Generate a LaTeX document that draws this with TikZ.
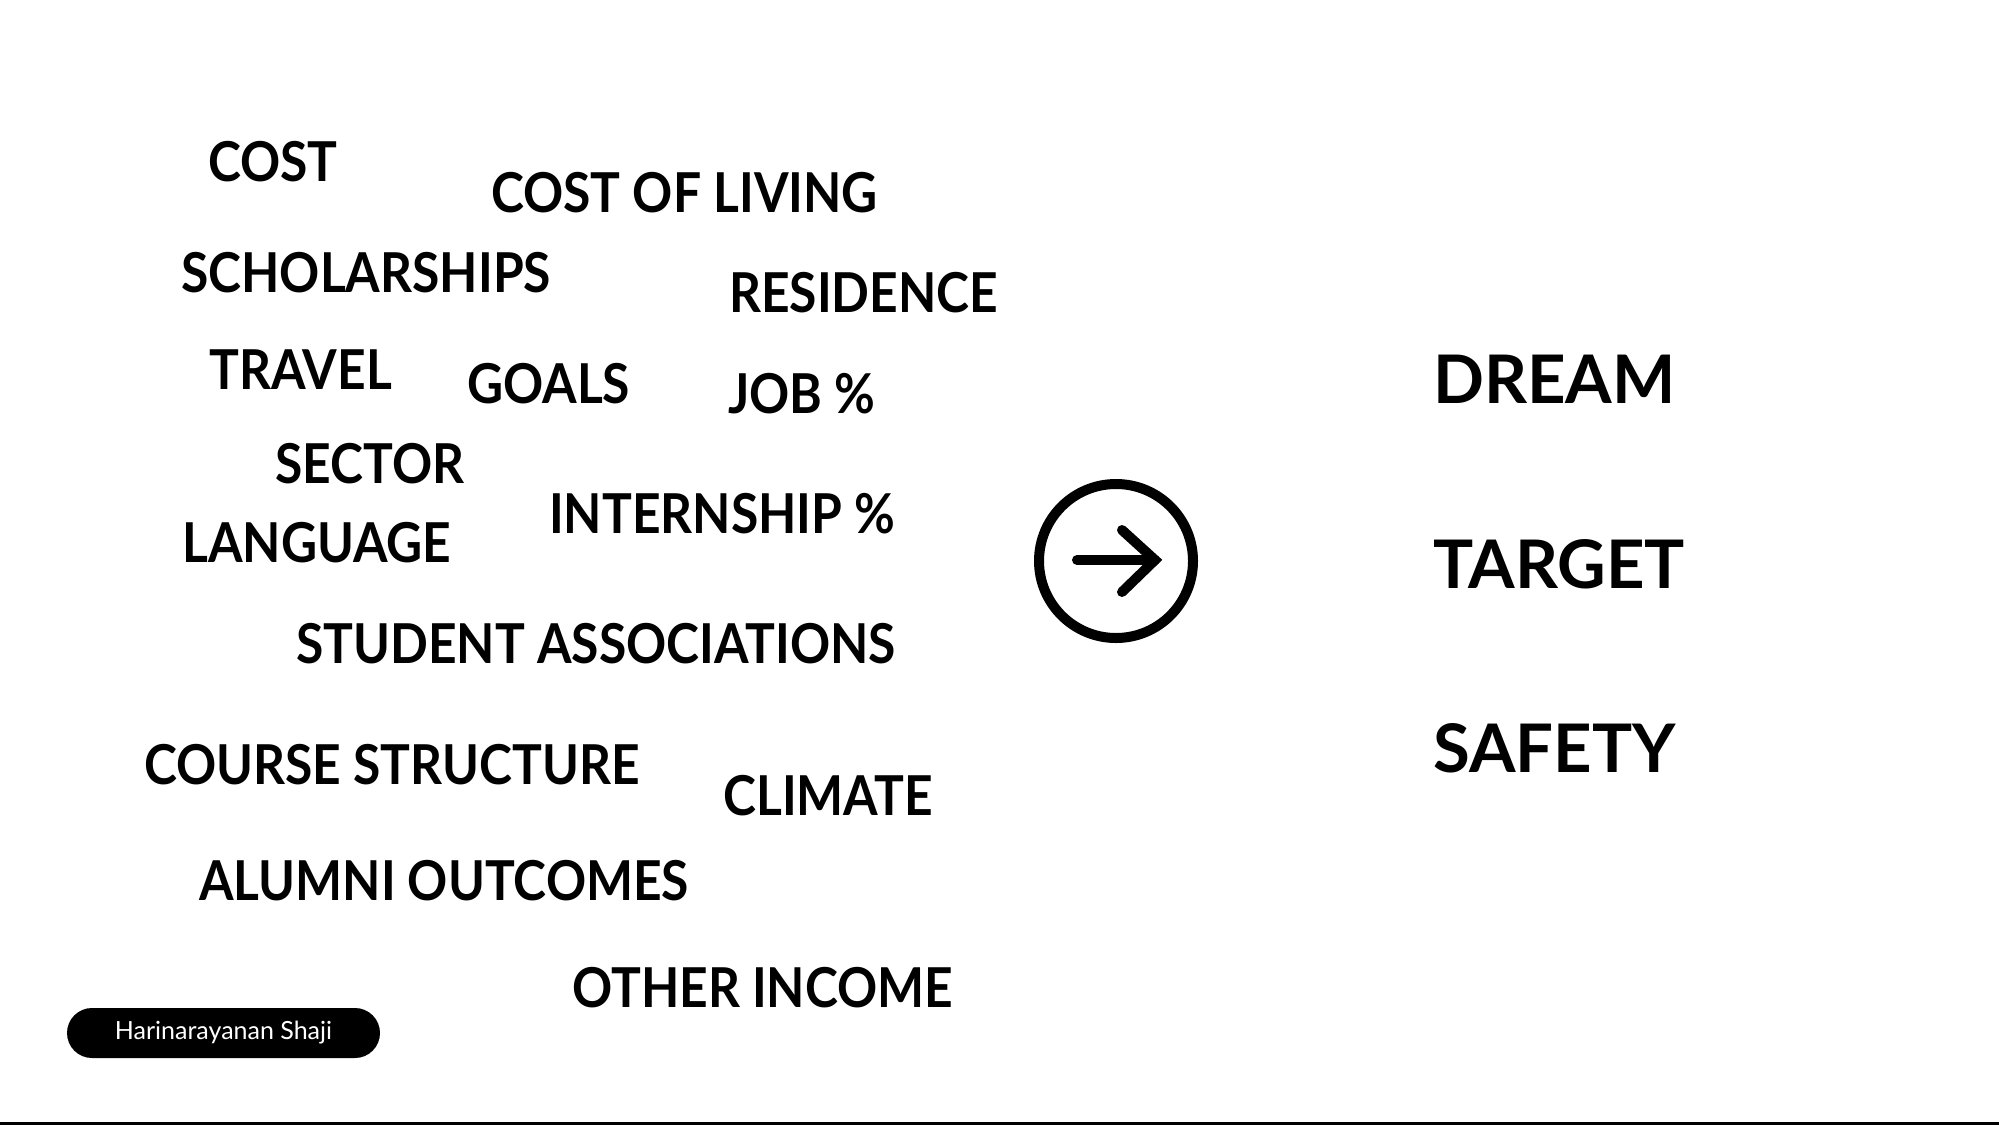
\documentclass[tikz,border=0pt]{standalone}
\usepackage{fontspec}
\usepackage{graphicx}
\setmainfont{Lato}
\newcommand{\narrowtext}[1]{\scalebox{0.905}[1]{#1}}
\begin{document}
\begin{tikzpicture}[x=1pt,y=-1pt,
  word/.style={anchor=base west,inner sep=0pt,font=\bfseries\fontsize{55}{60}\selectfont},
  big/.style={anchor=base west,inner sep=0pt,font=\bfseries\fontsize{67}{72}\selectfont},
  icon/.style={line width=10pt,line cap=round,line join=miter}]
\useasboundingbox (0,0) rectangle (1999,1125);
\fill[white] (0,0) rectangle (1999,1125);
\node[word] (cost) at (208,181) {\narrowtext{COST}};
\node[word] (col) at (491,212) {\narrowtext{COST OF LIVING}};
\node[word] (schol) at (181,292) {\narrowtext{SCHOLARSHIPS}};
\node[word] (res) at (729,312) {\narrowtext{RESIDENCE}};
\node[word] (travel) at (209,389) {\narrowtext{TRAVEL}};
\node[word] (goals) at (467,403) {\narrowtext{GOALS}};
\node[word] (job) at (728,413) {\narrowtext{JOB \%}};
\node[word] (sector) at (275,483) {\narrowtext{SECTOR}};
\node[word] (intern) at (549,533) {\narrowtext{INTERNSHIP \%}};
\node[word] (lang) at (182,562) {\narrowtext{LANGUAGE}};
\node[word] (assoc) at (296,663) {\narrowtext{STUDENT ASSOCIATIONS}};
\node[word] (course) at (144,784) {\narrowtext{COURSE STRUCTURE}};
\node[word] (climate) at (723,815) {\narrowtext{CLIMATE}};
\node[word] (alumni) at (199,900) {\narrowtext{ALUMNI OUTCOMES}};
\node[word] (income) at (572,1007) {\narrowtext{OTHER INCOME}};
\node[big] (dream) at (1433,403) {DREAM};
\node[big] (target) at (1433,588) {TARGET};
\node[big] (safety) at (1433,772) {SAFETY};
\draw[line width=10pt] (1116,561) circle[radius=77];
\draw[icon] (1077,560) -- (1155,560);
\draw[icon] (1122,530) -- (1155,560) -- (1122,592);
\node[fill=black,text=white,rounded corners=25pt,minimum width=313pt,minimum height=50pt,inner sep=0pt,
  font=\fontsize{25}{29}\selectfont] (author) at (223.5,1033) {Harinarayanan Shaji};
\draw[line width=3pt] (0,1123.5) -- (1999,1123.5);
\end{tikzpicture}
\end{document}
